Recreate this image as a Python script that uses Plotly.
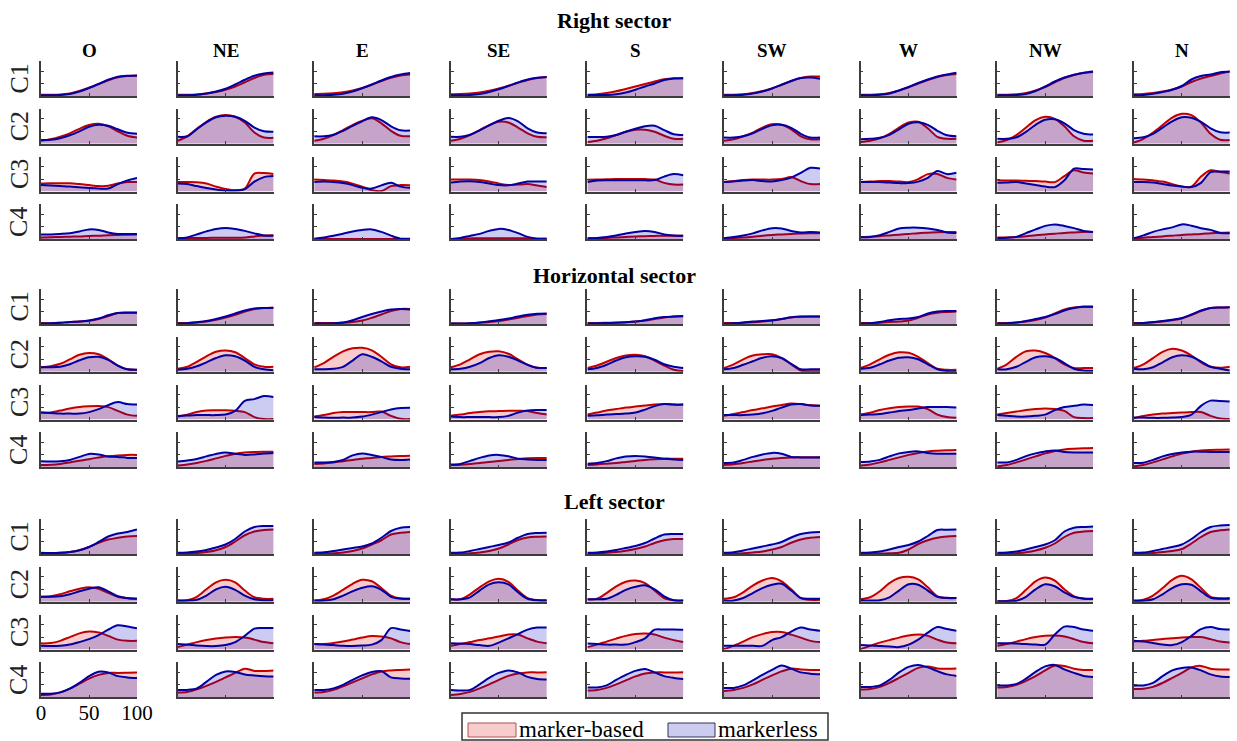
import plotly.graph_objects as go

# ---------------------------------------------------------------------------
# Data: normalised curves sampled every 10 % of the movement cycle
# ---------------------------------------------------------------------------
X_PCT = [0, 10, 20, 30, 40, 50, 60, 70, 80, 90, 100]
DIRECTIONS = ["O", "NE", "E", "SE", "S", "SW", "W", "NW", "N"]
COMPONENTS = ["C1", "C2", "C3", "C4"]
SECTORS = ["Right sector", "Horizontal sector", "Left sector"]
X_TICKS = [0, 50, 100]
Y_TICKS = [0.5, 1.0]
Y_MAX = 1.4

# ---- Right sector -----------------------------------------------------------
RIGHT_C1_MB = [
    [0.05, 0.05, 0.06, 0.10, 0.20, 0.33, 0.48, 0.63, 0.75, 0.80, 0.81],
    [0.05, 0.05, 0.06, 0.10, 0.16, 0.25, 0.38, 0.55, 0.72, 0.85, 0.88],
    [0.08, 0.09, 0.11, 0.15, 0.22, 0.32, 0.45, 0.60, 0.73, 0.82, 0.86],
    [0.07, 0.08, 0.10, 0.14, 0.21, 0.30, 0.41, 0.53, 0.64, 0.72, 0.76],
    [0.05, 0.07, 0.12, 0.19, 0.28, 0.38, 0.48, 0.58, 0.67, 0.71, 0.71],
    [0.05, 0.05, 0.07, 0.12, 0.20, 0.30, 0.45, 0.60, 0.72, 0.78, 0.78],
    [0.05, 0.05, 0.07, 0.12, 0.22, 0.35, 0.50, 0.64, 0.76, 0.84, 0.88],
    [0.05, 0.05, 0.07, 0.12, 0.22, 0.36, 0.55, 0.72, 0.84, 0.92, 0.96],
    [0.07, 0.08, 0.12, 0.18, 0.26, 0.38, 0.56, 0.70, 0.80, 0.90, 0.98],
]
RIGHT_C1_ML = [
    [0.03, 0.03, 0.04, 0.08, 0.18, 0.32, 0.48, 0.65, 0.77, 0.81, 0.82],
    [0.03, 0.03, 0.05, 0.10, 0.18, 0.29, 0.46, 0.65, 0.81, 0.90, 0.94],
    [0.03, 0.03, 0.05, 0.09, 0.18, 0.31, 0.46, 0.62, 0.76, 0.86, 0.92],
    [0.03, 0.03, 0.04, 0.08, 0.16, 0.27, 0.40, 0.54, 0.66, 0.73, 0.76],
    [0.04, 0.04, 0.04, 0.07, 0.14, 0.25, 0.38, 0.50, 0.64, 0.70, 0.71],
    [0.03, 0.03, 0.05, 0.10, 0.18, 0.30, 0.45, 0.60, 0.72, 0.74, 0.69],
    [0.03, 0.03, 0.05, 0.10, 0.22, 0.36, 0.52, 0.66, 0.78, 0.86, 0.93],
    [0.03, 0.03, 0.04, 0.08, 0.20, 0.38, 0.58, 0.74, 0.85, 0.93, 0.98],
    [0.03, 0.04, 0.09, 0.16, 0.25, 0.40, 0.66, 0.80, 0.86, 0.95, 0.98],
]
RIGHT_C2_MB = [
    [0.12, 0.18, 0.28, 0.42, 0.60, 0.75, 0.80, 0.70, 0.50, 0.32, 0.25],
    [0.12, 0.30, 0.60, 0.88, 1.08, 1.15, 1.08, 0.85, 0.45, 0.25, 0.24],
    [0.12, 0.20, 0.35, 0.55, 0.75, 0.92, 1.02, 0.82, 0.52, 0.32, 0.30],
    [0.12, 0.20, 0.35, 0.55, 0.75, 0.88, 0.85, 0.65, 0.42, 0.28, 0.26],
    [0.07, 0.12, 0.22, 0.35, 0.48, 0.56, 0.56, 0.48, 0.32, 0.20, 0.20],
    [0.12, 0.18, 0.30, 0.45, 0.65, 0.78, 0.76, 0.58, 0.30, 0.18, 0.18],
    [0.07, 0.12, 0.22, 0.40, 0.65, 0.85, 0.88, 0.62, 0.28, 0.20, 0.20],
    [0.05, 0.15, 0.35, 0.65, 0.95, 1.08, 1.00, 0.70, 0.30, 0.12, 0.12],
    [0.05, 0.20, 0.45, 0.75, 1.05, 1.20, 1.15, 0.85, 0.40, 0.16, 0.15],
]
RIGHT_C2_ML = [
    [0.15, 0.16, 0.22, 0.34, 0.50, 0.68, 0.76, 0.72, 0.58, 0.44, 0.40],
    [0.28, 0.30, 0.58, 0.86, 1.06, 1.12, 1.08, 0.92, 0.65, 0.50, 0.48],
    [0.30, 0.30, 0.36, 0.52, 0.72, 0.90, 1.06, 0.95, 0.70, 0.54, 0.53],
    [0.28, 0.28, 0.36, 0.54, 0.74, 0.92, 1.03, 0.90, 0.62, 0.45, 0.42],
    [0.27, 0.27, 0.28, 0.35, 0.48, 0.60, 0.70, 0.72, 0.55, 0.38, 0.35],
    [0.25, 0.25, 0.30, 0.42, 0.60, 0.74, 0.76, 0.64, 0.40, 0.25, 0.25],
    [0.18, 0.20, 0.24, 0.36, 0.58, 0.80, 0.86, 0.76, 0.52, 0.34, 0.30],
    [0.20, 0.20, 0.26, 0.48, 0.76, 0.96, 0.98, 0.82, 0.55, 0.40, 0.37],
    [0.22, 0.26, 0.40, 0.65, 0.90, 1.06, 1.04, 0.88, 0.62, 0.46, 0.45],
]
RIGHT_C3_MB = [
    [0.32, 0.33, 0.33, 0.33, 0.30, 0.26, 0.22, 0.23, 0.32, 0.38, 0.38],
    [0.38, 0.38, 0.37, 0.32, 0.20, 0.10, 0.05, 0.12, 0.72, 0.74, 0.70],
    [0.48, 0.46, 0.44, 0.40, 0.32, 0.20, 0.06, 0.02, 0.22, 0.26, 0.25],
    [0.48, 0.48, 0.48, 0.46, 0.40, 0.32, 0.26, 0.28, 0.30, 0.24, 0.18],
    [0.47, 0.48, 0.49, 0.50, 0.50, 0.50, 0.50, 0.48, 0.35, 0.28, 0.28],
    [0.38, 0.42, 0.46, 0.48, 0.48, 0.48, 0.50, 0.58, 0.42, 0.30, 0.30],
    [0.38, 0.40, 0.42, 0.42, 0.40, 0.38, 0.50, 0.70, 0.70, 0.55, 0.48],
    [0.45, 0.44, 0.44, 0.43, 0.42, 0.40, 0.38, 0.62, 0.85, 0.76, 0.72],
    [0.50, 0.48, 0.45, 0.40, 0.30, 0.20, 0.20, 0.60, 0.85, 0.78, 0.72],
]
RIGHT_C3_ML = [
    [0.26, 0.24, 0.22, 0.20, 0.17, 0.14, 0.12, 0.12, 0.30, 0.45, 0.55],
    [0.32, 0.30, 0.22, 0.14, 0.08, 0.04, 0.04, 0.10, 0.40, 0.58, 0.62],
    [0.38, 0.40, 0.38, 0.34, 0.26, 0.15, 0.12, 0.25, 0.35, 0.20, 0.15],
    [0.36, 0.40, 0.41, 0.38, 0.32, 0.26, 0.25, 0.32, 0.40, 0.40, 0.40],
    [0.38, 0.44, 0.45, 0.45, 0.45, 0.45, 0.45, 0.46, 0.60, 0.70, 0.65],
    [0.38, 0.40, 0.44, 0.46, 0.42, 0.40, 0.46, 0.56, 0.75, 0.95, 0.92],
    [0.38, 0.38, 0.38, 0.36, 0.34, 0.34, 0.40, 0.55, 0.82, 0.70, 0.75],
    [0.35, 0.36, 0.38, 0.32, 0.26, 0.20, 0.18, 0.45, 0.92, 0.90, 0.88],
    [0.38, 0.38, 0.36, 0.30, 0.24, 0.20, 0.18, 0.35, 0.78, 0.80, 0.80],
]
RIGHT_C4_MB = [
    [0.08, 0.09, 0.10, 0.11, 0.12, 0.14, 0.15, 0.17, 0.18, 0.19, 0.20],
    [0.04, 0.05, 0.06, 0.06, 0.07, 0.07, 0.07, 0.08, 0.12, 0.16, 0.17],
    [0.02, 0.02, 0.02, 0.02, 0.02, 0.02, 0.02, 0.02, 0.02, 0.02, 0.02],
    [0.02, 0.03, 0.04, 0.05, 0.05, 0.05, 0.05, 0.05, 0.04, 0.03, 0.03],
    [0.05, 0.05, 0.06, 0.08, 0.10, 0.12, 0.13, 0.14, 0.15, 0.15, 0.15],
    [0.05, 0.06, 0.08, 0.11, 0.15, 0.18, 0.20, 0.22, 0.24, 0.25, 0.25],
    [0.10, 0.11, 0.13, 0.16, 0.19, 0.22, 0.25, 0.27, 0.29, 0.30, 0.30],
    [0.08, 0.08, 0.10, 0.13, 0.17, 0.20, 0.23, 0.26, 0.28, 0.30, 0.30],
    [0.05, 0.07, 0.10, 0.12, 0.15, 0.18, 0.20, 0.22, 0.25, 0.27, 0.28],
]
RIGHT_C4_ML = [
    [0.20, 0.20, 0.22, 0.25, 0.32, 0.40, 0.38, 0.28, 0.22, 0.22, 0.22],
    [0.05, 0.08, 0.20, 0.32, 0.42, 0.46, 0.42, 0.34, 0.24, 0.16, 0.15],
    [0.03, 0.08, 0.15, 0.23, 0.32, 0.38, 0.40, 0.30, 0.15, 0.03, 0.03],
    [0.02, 0.06, 0.14, 0.22, 0.34, 0.42, 0.38, 0.25, 0.10, 0.03, 0.03],
    [0.05, 0.06, 0.10, 0.16, 0.24, 0.30, 0.34, 0.30, 0.20, 0.16, 0.15],
    [0.05, 0.10, 0.16, 0.24, 0.36, 0.45, 0.44, 0.34, 0.28, 0.30, 0.28],
    [0.09, 0.10, 0.17, 0.30, 0.44, 0.47, 0.47, 0.44, 0.38, 0.28, 0.26],
    [0.06, 0.07, 0.10, 0.25, 0.40, 0.54, 0.60, 0.54, 0.45, 0.34, 0.30],
    [0.05, 0.16, 0.30, 0.40, 0.48, 0.60, 0.55, 0.45, 0.38, 0.26, 0.25],
]

# ---- Horizontal sector ------------------------------------------------------
HORIZ_C1_MB = [
    [0.04, 0.03, 0.05, 0.08, 0.10, 0.13, 0.20, 0.32, 0.44, 0.46, 0.46],
    [0.04, 0.04, 0.06, 0.10, 0.17, 0.26, 0.37, 0.50, 0.60, 0.64, 0.65],
    [0.04, 0.04, 0.04, 0.05, 0.08, 0.14, 0.25, 0.38, 0.52, 0.60, 0.60],
    [0.02, 0.02, 0.03, 0.05, 0.08, 0.12, 0.18, 0.25, 0.32, 0.38, 0.40],
    [0.04, 0.04, 0.05, 0.06, 0.07, 0.10, 0.14, 0.20, 0.26, 0.30, 0.31],
    [0.04, 0.04, 0.05, 0.07, 0.10, 0.14, 0.20, 0.26, 0.29, 0.30, 0.30],
    [0.04, 0.04, 0.05, 0.08, 0.10, 0.14, 0.25, 0.38, 0.45, 0.48, 0.50],
    [0.04, 0.04, 0.06, 0.10, 0.16, 0.26, 0.42, 0.58, 0.66, 0.68, 0.68],
    [0.04, 0.04, 0.06, 0.10, 0.15, 0.22, 0.36, 0.52, 0.64, 0.66, 0.67],
]
HORIZ_C1_ML = [
    [0.02, 0.03, 0.05, 0.08, 0.10, 0.14, 0.22, 0.35, 0.44, 0.45, 0.45],
    [0.02, 0.03, 0.07, 0.12, 0.20, 0.30, 0.42, 0.54, 0.62, 0.64, 0.65],
    [0.02, 0.02, 0.03, 0.06, 0.15, 0.28, 0.40, 0.50, 0.58, 0.60, 0.58],
    [0.02, 0.02, 0.03, 0.06, 0.11, 0.16, 0.22, 0.30, 0.37, 0.41, 0.42],
    [0.02, 0.03, 0.04, 0.05, 0.07, 0.10, 0.15, 0.23, 0.28, 0.30, 0.32],
    [0.01, 0.03, 0.06, 0.10, 0.12, 0.15, 0.20, 0.27, 0.30, 0.30, 0.30],
    [0.02, 0.03, 0.08, 0.15, 0.20, 0.22, 0.28, 0.42, 0.50, 0.52, 0.52],
    [0.02, 0.03, 0.06, 0.12, 0.20, 0.28, 0.40, 0.54, 0.64, 0.70, 0.70],
    [0.02, 0.04, 0.08, 0.12, 0.17, 0.24, 0.38, 0.54, 0.64, 0.66, 0.67],
]
HORIZ_C2_MB = [
    [0.18, 0.22, 0.32, 0.50, 0.68, 0.75, 0.70, 0.50, 0.25, 0.10, 0.08],
    [0.12, 0.20, 0.40, 0.62, 0.80, 0.85, 0.78, 0.55, 0.30, 0.20, 0.20],
    [0.18, 0.35, 0.60, 0.82, 0.94, 0.96, 0.86, 0.60, 0.30, 0.18, 0.20],
    [0.18, 0.30, 0.50, 0.70, 0.80, 0.82, 0.72, 0.50, 0.28, 0.16, 0.15],
    [0.15, 0.25, 0.40, 0.55, 0.65, 0.68, 0.62, 0.45, 0.25, 0.08, 0.03],
    [0.15, 0.30, 0.50, 0.65, 0.70, 0.70, 0.55, 0.30, 0.05, 0.02, 0.02],
    [0.15, 0.30, 0.50, 0.68, 0.78, 0.76, 0.60, 0.35, 0.12, 0.08, 0.08],
    [0.12, 0.30, 0.60, 0.82, 0.85, 0.75, 0.55, 0.30, 0.15, 0.15, 0.15],
    [0.15, 0.30, 0.55, 0.80, 0.92, 0.85, 0.65, 0.38, 0.20, 0.16, 0.20],
]
HORIZ_C2_ML = [
    [0.18, 0.18, 0.20, 0.30, 0.46, 0.58, 0.60, 0.48, 0.25, 0.10, 0.08],
    [0.08, 0.12, 0.22, 0.38, 0.55, 0.66, 0.62, 0.45, 0.20, 0.10, 0.06],
    [0.10, 0.10, 0.12, 0.20, 0.45, 0.70, 0.60, 0.42, 0.20, 0.12, 0.10],
    [0.10, 0.12, 0.20, 0.35, 0.55, 0.66, 0.60, 0.45, 0.28, 0.16, 0.15],
    [0.10, 0.15, 0.28, 0.45, 0.58, 0.62, 0.60, 0.48, 0.30, 0.20, 0.15],
    [0.10, 0.15, 0.28, 0.42, 0.56, 0.62, 0.55, 0.32, 0.10, 0.10, 0.10],
    [0.12, 0.16, 0.30, 0.45, 0.56, 0.58, 0.50, 0.30, 0.10, 0.03, 0.02],
    [0.10, 0.10, 0.20, 0.40, 0.58, 0.62, 0.55, 0.35, 0.12, 0.05, 0.04],
    [0.12, 0.10, 0.18, 0.38, 0.58, 0.66, 0.60, 0.42, 0.20, 0.12, 0.05],
]
HORIZ_C3_MB = [
    [0.28, 0.28, 0.36, 0.44, 0.50, 0.53, 0.54, 0.50, 0.35, 0.20, 0.15],
    [0.12, 0.20, 0.30, 0.36, 0.37, 0.37, 0.35, 0.30, 0.10, 0.02, 0.02],
    [0.12, 0.18, 0.26, 0.30, 0.30, 0.30, 0.30, 0.32, 0.15, 0.03, 0.02],
    [0.15, 0.20, 0.26, 0.30, 0.33, 0.34, 0.35, 0.35, 0.34, 0.26, 0.20],
    [0.20, 0.28, 0.36, 0.42, 0.48, 0.52, 0.56, 0.60, 0.62, 0.60, 0.60],
    [0.15, 0.22, 0.30, 0.38, 0.45, 0.52, 0.58, 0.64, 0.62, 0.58, 0.55],
    [0.20, 0.28, 0.38, 0.45, 0.50, 0.52, 0.52, 0.42, 0.20, 0.10, 0.07],
    [0.20, 0.26, 0.32, 0.38, 0.42, 0.44, 0.42, 0.35, 0.10, 0.06, 0.06],
    [0.05, 0.14, 0.20, 0.24, 0.26, 0.28, 0.30, 0.30, 0.15, 0.04, 0.02],
]
HORIZ_C3_ML = [
    [0.28, 0.26, 0.24, 0.24, 0.24, 0.30, 0.42, 0.58, 0.70, 0.62, 0.60],
    [0.14, 0.16, 0.18, 0.18, 0.18, 0.20, 0.35, 0.75, 0.82, 0.94, 0.90],
    [0.10, 0.08, 0.07, 0.08, 0.08, 0.12, 0.20, 0.30, 0.40, 0.46, 0.47],
    [0.12, 0.10, 0.10, 0.10, 0.10, 0.10, 0.15, 0.28, 0.36, 0.38, 0.38],
    [0.15, 0.17, 0.20, 0.22, 0.24, 0.28, 0.40, 0.54, 0.62, 0.60, 0.60],
    [0.18, 0.18, 0.18, 0.20, 0.25, 0.35, 0.48, 0.60, 0.62, 0.56, 0.55],
    [0.18, 0.20, 0.22, 0.28, 0.34, 0.38, 0.44, 0.50, 0.50, 0.50, 0.48],
    [0.18, 0.15, 0.12, 0.12, 0.15, 0.20, 0.38, 0.50, 0.55, 0.60, 0.58],
    [0.08, 0.08, 0.07, 0.07, 0.08, 0.10, 0.20, 0.55, 0.76, 0.74, 0.72],
]
HORIZ_C4_MB = [
    [0.10, 0.11, 0.14, 0.20, 0.27, 0.33, 0.40, 0.45, 0.48, 0.50, 0.50],
    [0.08, 0.12, 0.18, 0.26, 0.36, 0.46, 0.55, 0.60, 0.62, 0.63, 0.63],
    [0.14, 0.16, 0.20, 0.25, 0.30, 0.35, 0.38, 0.42, 0.44, 0.46, 0.47],
    [0.10, 0.11, 0.14, 0.18, 0.22, 0.26, 0.30, 0.34, 0.37, 0.38, 0.38],
    [0.10, 0.12, 0.15, 0.18, 0.22, 0.26, 0.30, 0.33, 0.35, 0.35, 0.35],
    [0.10, 0.13, 0.18, 0.24, 0.30, 0.35, 0.38, 0.40, 0.41, 0.41, 0.41],
    [0.08, 0.12, 0.20, 0.30, 0.40, 0.50, 0.58, 0.64, 0.67, 0.69, 0.70],
    [0.05, 0.10, 0.20, 0.32, 0.44, 0.56, 0.66, 0.72, 0.75, 0.77, 0.78],
    [0.05, 0.10, 0.20, 0.32, 0.44, 0.55, 0.63, 0.68, 0.70, 0.71, 0.72],
]
HORIZ_C4_ML = [
    [0.25, 0.24, 0.25, 0.30, 0.42, 0.54, 0.52, 0.44, 0.42, 0.38, 0.38],
    [0.24, 0.28, 0.34, 0.44, 0.54, 0.60, 0.55, 0.50, 0.52, 0.56, 0.58],
    [0.20, 0.20, 0.22, 0.30, 0.48, 0.56, 0.50, 0.42, 0.32, 0.30, 0.32],
    [0.12, 0.14, 0.26, 0.38, 0.48, 0.50, 0.45, 0.35, 0.32, 0.30, 0.30],
    [0.15, 0.18, 0.25, 0.36, 0.44, 0.46, 0.44, 0.40, 0.35, 0.32, 0.30],
    [0.18, 0.20, 0.30, 0.42, 0.52, 0.58, 0.55, 0.42, 0.40, 0.40, 0.40],
    [0.22, 0.24, 0.30, 0.44, 0.56, 0.62, 0.64, 0.58, 0.55, 0.55, 0.55],
    [0.20, 0.20, 0.30, 0.45, 0.56, 0.64, 0.68, 0.62, 0.60, 0.60, 0.60],
    [0.18, 0.19, 0.30, 0.44, 0.54, 0.60, 0.63, 0.63, 0.62, 0.62, 0.62],
]

# ---- Left sector --------------------------------------------------------------
LEFT_C1_MB = [
    [0.05, 0.04, 0.05, 0.08, 0.15, 0.28, 0.45, 0.58, 0.65, 0.70, 0.72],
    [0.02, 0.02, 0.04, 0.08, 0.15, 0.28, 0.50, 0.75, 0.90, 0.96, 0.98],
    [0.02, 0.02, 0.03, 0.06, 0.12, 0.22, 0.38, 0.55, 0.78, 0.85, 0.88],
    [0.02, 0.02, 0.03, 0.06, 0.12, 0.22, 0.38, 0.56, 0.66, 0.69, 0.70],
    [0.03, 0.03, 0.05, 0.08, 0.13, 0.20, 0.30, 0.44, 0.55, 0.60, 0.60],
    [0.02, 0.02, 0.03, 0.06, 0.10, 0.18, 0.28, 0.45, 0.58, 0.65, 0.68],
    [0.02, 0.02, 0.02, 0.03, 0.05, 0.18, 0.40, 0.55, 0.65, 0.70, 0.72],
    [0.00, 0.01, 0.03, 0.07, 0.14, 0.25, 0.42, 0.68, 0.85, 0.90, 0.92],
    [0.02, 0.02, 0.04, 0.08, 0.12, 0.20, 0.42, 0.68, 0.88, 0.95, 0.98],
]
LEFT_C1_ML = [
    [0.04, 0.04, 0.05, 0.08, 0.15, 0.28, 0.48, 0.70, 0.82, 0.88, 0.98],
    [0.05, 0.06, 0.10, 0.16, 0.26, 0.38, 0.60, 0.90, 1.08, 1.12, 1.12],
    [0.05, 0.07, 0.12, 0.18, 0.24, 0.30, 0.42, 0.65, 0.92, 1.05, 1.08],
    [0.05, 0.06, 0.12, 0.20, 0.28, 0.36, 0.46, 0.65, 0.80, 0.84, 0.85],
    [0.05, 0.06, 0.10, 0.16, 0.24, 0.32, 0.44, 0.62, 0.78, 0.80, 0.80],
    [0.05, 0.07, 0.14, 0.22, 0.30, 0.38, 0.48, 0.66, 0.80, 0.86, 0.88],
    [0.05, 0.06, 0.10, 0.18, 0.28, 0.36, 0.50, 0.72, 0.96, 0.97, 0.98],
    [0.05, 0.06, 0.10, 0.18, 0.28, 0.38, 0.55, 0.90, 1.05, 1.08, 1.10],
    [0.05, 0.06, 0.12, 0.20, 0.28, 0.38, 0.60, 0.88, 1.08, 1.14, 1.16],
]
LEFT_C2_MB = [
    [0.20, 0.22, 0.30, 0.42, 0.52, 0.58, 0.52, 0.36, 0.20, 0.14, 0.12],
    [0.05, 0.06, 0.20, 0.50, 0.78, 0.88, 0.78, 0.45, 0.18, 0.12, 0.12],
    [0.05, 0.10, 0.25, 0.48, 0.72, 0.88, 0.82, 0.55, 0.25, 0.13, 0.12],
    [0.10, 0.10, 0.30, 0.58, 0.82, 0.92, 0.80, 0.45, 0.15, 0.07, 0.06],
    [0.10, 0.12, 0.35, 0.62, 0.80, 0.85, 0.75, 0.45, 0.15, 0.06, 0.05],
    [0.12, 0.18, 0.38, 0.65, 0.85, 0.95, 0.82, 0.50, 0.15, 0.08, 0.08],
    [0.10, 0.18, 0.42, 0.75, 0.95, 1.00, 0.90, 0.58, 0.22, 0.15, 0.15],
    [0.02, 0.03, 0.15, 0.48, 0.82, 0.97, 0.85, 0.50, 0.22, 0.12, 0.12],
    [0.05, 0.08, 0.25, 0.55, 0.88, 1.04, 0.90, 0.55, 0.20, 0.14, 0.15],
]
LEFT_C2_ML = [
    [0.20, 0.20, 0.22, 0.30, 0.42, 0.52, 0.58, 0.42, 0.22, 0.15, 0.12],
    [0.05, 0.05, 0.08, 0.25, 0.50, 0.60, 0.48, 0.25, 0.10, 0.06, 0.06],
    [0.05, 0.05, 0.10, 0.25, 0.42, 0.56, 0.62, 0.48, 0.20, 0.13, 0.12],
    [0.10, 0.10, 0.18, 0.45, 0.70, 0.78, 0.70, 0.38, 0.12, 0.06, 0.05],
    [0.10, 0.10, 0.12, 0.28, 0.48, 0.60, 0.66, 0.50, 0.22, 0.06, 0.05],
    [0.05, 0.05, 0.15, 0.35, 0.55, 0.68, 0.72, 0.45, 0.15, 0.12, 0.12],
    [0.05, 0.05, 0.06, 0.18, 0.45, 0.70, 0.68, 0.45, 0.20, 0.16, 0.15],
    [0.02, 0.02, 0.04, 0.20, 0.50, 0.70, 0.62, 0.38, 0.20, 0.13, 0.12],
    [0.04, 0.04, 0.10, 0.30, 0.55, 0.70, 0.68, 0.42, 0.16, 0.12, 0.12],
]
LEFT_C3_MB = [
    [0.25, 0.26, 0.35, 0.50, 0.65, 0.72, 0.68, 0.55, 0.40, 0.35, 0.35],
    [0.10, 0.20, 0.30, 0.38, 0.44, 0.48, 0.50, 0.48, 0.40, 0.30, 0.25],
    [0.22, 0.22, 0.26, 0.32, 0.40, 0.48, 0.54, 0.52, 0.45, 0.30, 0.22],
    [0.15, 0.22, 0.30, 0.38, 0.45, 0.52, 0.60, 0.60, 0.45, 0.32, 0.25],
    [0.10, 0.20, 0.32, 0.44, 0.55, 0.62, 0.64, 0.60, 0.48, 0.38, 0.30],
    [0.02, 0.15, 0.32, 0.50, 0.62, 0.70, 0.70, 0.60, 0.48, 0.35, 0.30],
    [0.02, 0.15, 0.28, 0.38, 0.48, 0.56, 0.60, 0.55, 0.40, 0.28, 0.25],
    [0.15, 0.22, 0.32, 0.42, 0.50, 0.55, 0.56, 0.52, 0.42, 0.30, 0.25],
    [0.32, 0.35, 0.38, 0.42, 0.45, 0.48, 0.50, 0.50, 0.42, 0.32, 0.28],
]
LEFT_C3_ML = [
    [0.15, 0.14, 0.15, 0.20, 0.30, 0.42, 0.58, 0.80, 0.97, 0.92, 0.85],
    [0.22, 0.20, 0.16, 0.14, 0.14, 0.18, 0.30, 0.55, 0.84, 0.86, 0.86],
    [0.22, 0.20, 0.18, 0.15, 0.14, 0.16, 0.20, 0.38, 0.86, 0.80, 0.74],
    [0.25, 0.24, 0.22, 0.18, 0.15, 0.28, 0.45, 0.62, 0.80, 0.88, 0.88],
    [0.24, 0.22, 0.20, 0.20, 0.20, 0.30, 0.45, 0.80, 0.80, 0.80, 0.79],
    [0.15, 0.15, 0.15, 0.15, 0.15, 0.38, 0.50, 0.72, 0.88, 0.80, 0.75],
    [0.18, 0.16, 0.14, 0.12, 0.10, 0.20, 0.40, 0.68, 0.90, 0.82, 0.75],
    [0.25, 0.25, 0.24, 0.22, 0.20, 0.20, 0.60, 0.92, 0.90, 0.80, 0.75],
    [0.35, 0.32, 0.26, 0.20, 0.18, 0.30, 0.55, 0.82, 0.90, 0.82, 0.80],
]
LEFT_C4_MB = [
    [0.10, 0.12, 0.20, 0.35, 0.55, 0.75, 0.90, 0.98, 0.98, 0.99, 1.00],
    [0.20, 0.22, 0.32, 0.46, 0.62, 0.80, 0.98, 1.15, 1.06, 1.06, 1.08],
    [0.20, 0.22, 0.30, 0.44, 0.60, 0.76, 0.92, 1.04, 1.08, 1.10, 1.12],
    [0.10, 0.14, 0.22, 0.36, 0.52, 0.70, 0.86, 0.96, 1.00, 1.00, 1.01],
    [0.28, 0.30, 0.38, 0.52, 0.68, 0.84, 0.96, 1.00, 1.00, 1.00, 1.01],
    [0.26, 0.30, 0.38, 0.52, 0.70, 0.88, 1.04, 1.15, 1.12, 1.10, 1.10],
    [0.32, 0.34, 0.42, 0.58, 0.78, 0.98, 1.18, 1.24, 1.16, 1.15, 1.16],
    [0.40, 0.42, 0.50, 0.66, 0.85, 1.08, 1.28, 1.26, 1.15, 1.10, 1.10],
    [0.34, 0.35, 0.42, 0.58, 0.78, 0.98, 1.20, 1.26, 1.15, 1.12, 1.12],
]
LEFT_C4_ML = [
    [0.15, 0.15, 0.20, 0.35, 0.58, 0.85, 1.03, 1.00, 0.85, 0.80, 0.78],
    [0.30, 0.30, 0.36, 0.62, 0.90, 1.04, 1.02, 0.92, 0.88, 0.85, 0.84],
    [0.30, 0.30, 0.36, 0.50, 0.70, 0.88, 1.02, 1.05, 0.80, 0.76, 0.75],
    [0.30, 0.28, 0.30, 0.52, 0.78, 0.98, 1.08, 1.00, 0.82, 0.74, 0.72],
    [0.40, 0.40, 0.48, 0.70, 0.90, 1.06, 1.14, 1.00, 0.85, 0.78, 0.74],
    [0.38, 0.38, 0.48, 0.68, 0.90, 1.10, 1.28, 1.15, 1.00, 0.95, 0.93],
    [0.42, 0.42, 0.48, 0.70, 1.00, 1.22, 1.30, 1.20, 1.05, 0.92, 0.86],
    [0.48, 0.48, 0.54, 0.75, 1.02, 1.24, 1.30, 1.12, 0.98, 0.86, 0.82],
    [0.48, 0.48, 0.58, 0.85, 1.08, 1.18, 1.20, 1.08, 0.92, 0.84, 0.82],
]

SECTOR_DATA = {
    "Right sector": [(RIGHT_C1_MB, RIGHT_C1_ML), (RIGHT_C2_MB, RIGHT_C2_ML),
                     (RIGHT_C3_MB, RIGHT_C3_ML), (RIGHT_C4_MB, RIGHT_C4_ML)],
    "Horizontal sector": [(HORIZ_C1_MB, HORIZ_C1_ML), (HORIZ_C2_MB, HORIZ_C2_ML),
                          (HORIZ_C3_MB, HORIZ_C3_ML), (HORIZ_C4_MB, HORIZ_C4_ML)],
    "Left sector": [(LEFT_C1_MB, LEFT_C1_ML), (LEFT_C2_MB, LEFT_C2_ML),
                    (LEFT_C3_MB, LEFT_C3_ML), (LEFT_C4_MB, LEFT_C4_ML)],
}

# ---------------------------------------------------------------------------
# Styling and geometry (pixels of the 1237 x 741 canvas)
# ---------------------------------------------------------------------------
W, H = 1237, 741
SERIF = "Liberation Serif, Times New Roman, serif"
MB_LINE, MB_FILL = "rgb(195,0,0)", "rgba(220,0,0,0.2)"
ML_LINE, ML_FILL = "rgb(0,0,165)", "rgba(0,0,190,0.2)"
AXIS_COLOR = "#3c3c3c"

COL_LEFT0, COL_STEP, COL_W = 41.0, 136.6, 96.0
SECTOR_TOP = [61.0, 289.0, 519.0]
ROW_STEP, ROW_H = 47.8, 35.0
SECTOR_TITLE_Y = [20.5, 275.5, 501.0]
HEADER_Y = 51.0
ROW_LABEL_X = 19.0


def px_x(x):
    return x / W


def px_y(y):
    return 1.0 - y / H


fig = go.Figure()
annotations = []
shapes = []

axis_idx = 0
for s, sector in enumerate(SECTORS):
    for r, comp in enumerate(COMPONENTS):
        mb_rows, ml_rows = SECTOR_DATA[sector][r]
        top = SECTOR_TOP[s] + r * ROW_STEP
        bottom = top + ROW_H
        for c, direction in enumerate(DIRECTIONS):
            axis_idx += 1
            sfx = "" if axis_idx == 1 else str(axis_idx)
            left = COL_LEFT0 + c * COL_STEP
            right = left + COL_W
            show_labels = (s == len(SECTORS) - 1 and r == len(COMPONENTS) - 1 and c == 0)

            for vals, lc, fc, name in ((mb_rows[c], MB_LINE, MB_FILL, "marker-based"),
                                       (ml_rows[c], ML_LINE, ML_FILL, "markerless")):
                fig.add_trace(go.Scatter(
                    x=X_PCT, y=vals, mode="lines", name=name,
                    line=dict(color=lc, width=2, shape="spline", smoothing=0.9),
                    fill="tozeroy", fillcolor=fc, showlegend=False,
                    hoverinfo="skip",
                    xaxis="x" + sfx, yaxis="y" + sfx,
                ))

            common = dict(showgrid=False, zeroline=False, showline=True,
                          linecolor=AXIS_COLOR, linewidth=1.5,
                          ticks="inside", ticklen=3, tickwidth=1,
                          tickcolor=AXIS_COLOR, fixedrange=True,
                          automargin=False)
            fig.layout["xaxis" + sfx] = dict(
                domain=[px_x(left), px_x(right)], anchor="y" + sfx,
                range=[0, 100], tickvals=X_TICKS, showticklabels=show_labels,
                ticklabelstandoff=-4,
                tickfont=dict(family=SERIF, size=21, color="black"), **common)
            fig.layout["yaxis" + sfx] = dict(
                domain=[px_y(bottom), px_y(top)], anchor="x" + sfx,
                range=[0, Y_MAX], tickvals=Y_TICKS, showticklabels=False, **common)

            if s == 0 and r == 0:
                annotations.append(dict(
                    text="<b>%s</b>" % direction, x=px_x((left + right) / 2),
                    y=px_y(HEADER_Y), xref="paper", yref="paper",
                    xanchor="center", yanchor="middle", showarrow=False,
                    font=dict(family=SERIF, size=19, color="black")))
        # component label on the left of each row
        annotations.append(dict(
            text=comp, x=px_x(ROW_LABEL_X), y=px_y(top + ROW_H / 2),
            xref="paper", yref="paper", xanchor="center", yanchor="middle",
            textangle=-90, showarrow=False,
            font=dict(family=SERIF, size=26, color="#222222")))
    annotations.append(dict(
        text="<b>%s</b>" % sector, x=0.4965, y=px_y(SECTOR_TITLE_Y[s]),
        xref="paper", yref="paper", xanchor="center", yanchor="middle",
        showarrow=False, font=dict(family=SERIF, size=22, color="black")))

# ---------------------------------------------------------------------------
# Legend box drawn underneath the grid
# ---------------------------------------------------------------------------
LEG_BOX = (462, 713, 828, 740)
shapes.append(dict(type="rect", xref="paper", yref="paper",
                   x0=px_x(LEG_BOX[0]), x1=px_x(LEG_BOX[2]),
                   y0=px_y(LEG_BOX[3]), y1=px_y(LEG_BOX[1]),
                   line=dict(color="#333333", width=1.5), fillcolor="white",
                   layer="below"))
legend_items = [
    ("marker-based", 468, 516, "rgb(247,204,204)", "rgb(180,80,80)"),
    ("markerless", 668, 715, "rgb(204,204,240)", "rgb(50,50,90)"),
]
for label, x0, x1, fc, ec in legend_items:
    shapes.append(dict(type="rect", xref="paper", yref="paper",
                       x0=px_x(x0), x1=px_x(x1), y0=px_y(737), y1=px_y(723),
                       line=dict(color=ec, width=1), fillcolor=fc))
    annotations.append(dict(
        text=label, x=px_x(x1 + 1), y=px_y(729), xref="paper", yref="paper",
        xanchor="left", yanchor="middle", showarrow=False,
        font=dict(family=SERIF, size=23, color="black")))

fig.update_layout(
    width=W, height=H,
    margin=dict(l=0, r=0, t=0, b=0, autoexpand=False),
    paper_bgcolor="white", plot_bgcolor="white",
    showlegend=False,
    annotations=annotations, shapes=shapes,
)

fig.write_html("out.html")
